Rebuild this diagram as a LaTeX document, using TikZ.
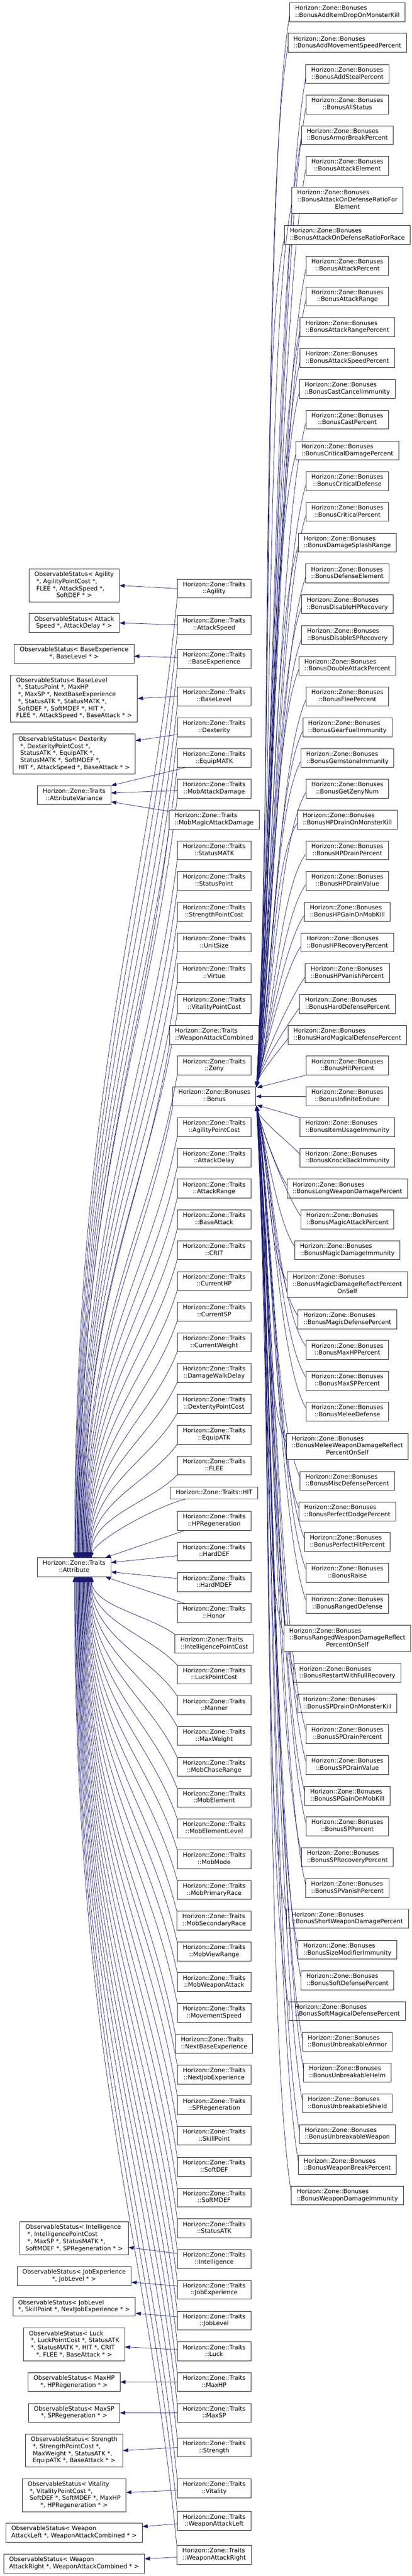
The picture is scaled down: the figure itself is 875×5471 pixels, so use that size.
\documentclass[tikz,border=0pt]{standalone}
\usepackage{fontspec}
\setmainfont{DejaVu Sans}
\usetikzlibrary{%
  calc,
  arrows.meta,
}
\definecolor{midnightblue}{HTML}{191970}

% label: every line flush left, the last one centred
\newcommand{\dlabel}[2]{\begin{tabular}{@{}l@{}}#1\\\multicolumn{1}{@{}c@{}}{#2}\end{tabular}}

% curved edge from a Traits class to Attribute
\newcommand{\attredge}[2]{%
  \pgfmathsetmacro\sgn{2*(#2<3328.5)-1}%
  \pgfmathsetmacro\dd{abs(#2-3328.5)-40}%
  \pgfmathsetmacro\xoff{40*(1-\dd/2100)}%
  \pgfmathsetmacro\cx{-0.3*(220-\xoff)}%
  \pgfmathsetmacro\cy{0.33*\dd*\sgn}%
  \pgfmathsetmacro\cz{-0.5*\dd*\sgn}%
  \pgfmathsetmacro\sy{20*\sgn}%
  \pgfmathsetmacro\ey{-20*\sgn}%
  \draw[inherit] ($(#1.west)+(0,\sy)$) .. controls +(\cx,\cy) and +(0,\cz) .. ($(Attribute.center)+(\xoff,\ey)$);}

% curved edge from a Bonuses class to Bonus
\newcommand{\bonusedge}[2]{%
  \pgfmathsetmacro\sgn{2*(#2<2328.5)-1}%
  \pgfmathsetmacro\dd{abs(#2-2328.5)-28}%
  \pgfmathsetmacro\ff{min(1,\dd/500)}%
  \pgfmathsetmacro\ax{-55*\ff}%
  \pgfmathsetmacro\ay{0.15*\dd*\sgn}%
  \pgfmathsetmacro\bx{35*\ff}%
  \pgfmathsetmacro\by{-0.3*\dd*\sgn}%
  \pgfmathsetmacro\sy{8*\sgn}%
  \pgfmathsetmacro\ey{-20*\sgn}%
  \draw[inherit] ($(#1.west)+(0,\sy)$) .. controls +(\ax,\ay) and +(\bx,\by) .. ($(Bonus.east)+(1,\ey)$);}

\begin{document}
\begin{tikzpicture}[%
           x=1pt, y=-1pt,
           classbox/.style={
             % The shape:
             rectangle,
             % The border:
             draw=black!85,
             line width=1pt,
             % The filling:
             fill=white,
             % The text:
             font=\fontsize{12.8}{15}\selectfont,
             inner xsep=11.5pt,
             inner ysep=5pt,
           },
           inherit/.style={
             -{Triangle[length=11pt,width=8pt]},
             line width=0.8pt,
             color=midnightblue,
           }]

  \useasboundingbox[fill=white] (0,0) rectangle (875,5471);

  % base classes
  \node[classbox] (obsAgility) at (157.5,1243.5) {\dlabel{ObservableStatus< Agility\\\ *, AgilityPointCost *,\\\ FLEE *, AttackSpeed *,}{SoftDEF * >}};
  \node[classbox] (obsAttackSpeed) at (157.5,1323) {\dlabel{ObservableStatus< Attack}{Speed *, AttackDelay * >}};
  \node[classbox] (obsBaseExperience) at (157.5,1388.5) {\dlabel{ObservableStatus< BaseExperience}{*, BaseLevel * >}};
  \node[classbox] (obsBaseLevel) at (157.5,1483.5) {\dlabel{ObservableStatus< BaseLevel\\\ *, StatusPoint *, MaxHP\\\ *, MaxSP *, NextBaseExperience\\\ *, StatusATK *, StatusMATK *,\\\ SoftDEF *, SoftMDEF *, HIT *,}{FLEE *, AttackSpeed *, BaseAttack * >}};
  \node[classbox] (obsDexterity) at (157.5,1601) {\dlabel{ObservableStatus< Dexterity\\\ *, DexterityPointCost *,\\\ StatusATK *, EquipATK *,\\\ StatusMATK *, SoftMDEF *,}{HIT *, AttackSpeed *, BaseAttack * >}};
  \node[classbox] (AttributeVariance) at (157.5,1689) {\dlabel{Horizon::Zone::Traits}{::AttributeVariance}};
  \node[classbox] (Attribute) at (157.5,3328.5) {\dlabel{Horizon::Zone::Traits}{::Attribute}};
  \node[classbox] (obsIntelligence) at (157.5,4754) {\dlabel{ObservableStatus< Intelligence\\\ *, IntelligencePointCost\\\ *, MaxSP *, StatusMATK *,}{SoftMDEF *, SPRegeneration * >}};
  \node[classbox] (obsJobExperience) at (157.5,4834) {\dlabel{ObservableStatus< JobExperience}{*, JobLevel * >}};
  \node[classbox] (obsJobLevel) at (157.5,4899) {\dlabel{ObservableStatus< JobLevel}{*, SkillPoint *, NextJobExperience * >}};
  \node[classbox] (obsLuck) at (157.5,4979.5) {\dlabel{ObservableStatus< Luck\\\ *, LuckPointCost *, StatusATK\\\ *, StatusMATK *, HIT *, CRIT}{*, FLEE *, BaseAttack * >}};
  \node[classbox] (obsMaxHP) at (157.5,5059) {\dlabel{ObservableStatus< MaxHP}{*, HPRegeneration * >}};
  \node[classbox] (obsMaxSP) at (157.5,5124.5) {\dlabel{ObservableStatus< MaxSP}{*, SPRegeneration * >}};
  \node[classbox] (obsStrength) at (157.5,5204.5) {\dlabel{ObservableStatus< Strength\\\ *, StrengthPointCost *,\\\ MaxWeight *, StatusATK *,}{EquipATK *, BaseAttack * >}};
  \node[classbox] (obsVitality) at (157.5,5299.5) {\dlabel{ObservableStatus< Vitality\\\ *, VitalityPointCost *,\\\ SoftDEF *, SoftMDEF *, MaxHP}{*, HPRegeneration * >}};
  \node[classbox] (obsWeaponAttackLeft) at (157.5,5379) {\dlabel{ObservableStatus< Weapon}{AttackLeft *, WeaponAttackCombined * >}};
  \node[classbox] (obsWeaponAttackRight) at (157.5,5444.5) {\dlabel{ObservableStatus< Weapon}{AttackRight *, WeaponAttackCombined * >}};

  % Bonus
  \node[classbox] (Bonus) at (455.5,2328.5) {\dlabel{Horizon::Zone::Bonuses}{::Bonus}};
  \attredge{Bonus}{2328.5}

  % traits
  \foreach \cls/\y in {Agility/1250, AttackSpeed/1327, BaseExperience/1399.5, BaseLevel/1479,
      Dexterity/1545, EquipMATK/1610, MobAttackDamage/1675, MobMagicAttackDamage/1740.5,
      StatusMATK/1806, StatusPoint/1871, StrengthPointCost/1936.5, UnitSize/2002, Virtue/2067,
      VitalityPointCost/2132.5, WeaponAttackCombined/2198, Zeny/2263, AgilityPointCost/2394,
      AttackDelay/2459, AttackRange/2524.5, BaseAttack/2590, CRIT/2655, CurrentHP/2720.5,
      CurrentSP/2785.5, CurrentWeight/2851, DamageWalkDelay/2916, DexterityPointCost/2981.5,
      EquipATK/3047, FLEE/3112.5, IntelligencePointCost/3491, LuckPointCost/3556.5, Manner/3622,
      MaxWeight/3687, MobChaseRange/3752.5, MobElement/3818, MobElementLevel/3883, MobMode/3949,
      MobPrimaryRace/4014, MobSecondaryRace/4079, MobViewRange/4144.5, MobWeaponAttack/4209.5,
      MovementSpeed/4275, NextBaseExperience/4340.5, NextJobExperience/4406, SPRegeneration/4471,
      SkillPoint/4536, SoftDEF/4602, SoftMDEF/4667, StatusATK/4732.5, Intelligence/4798,
      JobExperience/4863, JobLevel/4928.5, Luck/4994, MaxHP/5059, MaxSP/5124.5, Strength/5198,
      Vitality/5285, WeaponAttackLeft/5354, WeaponAttackRight/5426}
  {
    \node[classbox] (\cls) at (455,\y) {\dlabel{Horizon::Zone::Traits}{::\cls}};
    \attredge{\cls}{\y}
  }
  \foreach \cls/\y in {HPRegeneration/3230, HardDEF/3295, HardMDEF/3360.5, Honor/3426}
    \node[classbox] (\cls) at (455,\y) {\dlabel{Horizon::Zone::Traits}{::\cls}};
  \node[classbox] (HIT) at (455,3171) {\begin{tabular}{@{}c@{}}Horizon::Zone::Traits::HIT\end{tabular}};

  \draw[inherit] ($(HIT.south west)+(32,0)$) .. controls +(-60,15) and +(15,-40) .. ($(Attribute.north)+(34,0)$);
  \draw[inherit] ($(HPRegeneration.south west)+(16,0)$) -- ($(Attribute.north east)+(-12,0)$);
  \draw[inherit] ($(HardDEF.west)+(0,9)$) -- ($(Attribute.east)+(0,-10)$);
  \draw[inherit] ($(HardMDEF.west)+(0,-8)$) -- ($(Attribute.east)+(0,10)$);
  \draw[inherit] ($(Honor.north west)+(16,0)$) -- ($(Attribute.south east)+(-12,0)$);

  % traits to their observable bases
  \draw[inherit] (Agility.west) -- (obsAgility.east);
  \draw[inherit] (AttackSpeed.west) -- (obsAttackSpeed.east);
  \draw[inherit] ($(BaseExperience.west)+(0,-3)$) -- ($(obsBaseExperience.east)+(0,5)$);
  \draw[inherit] (BaseLevel.west) -- (obsBaseLevel.east);
  \draw[inherit] ($(Dexterity.west)+(0,15)$) -- ($(obsDexterity.east)+(0,-28)$);
  \draw[inherit] ($(EquipMATK.south west)+(16,0)$) -- (AttributeVariance.north east);
  \draw[inherit] ($(MobAttackDamage.west)+(0,4)$) -- ($(AttributeVariance.east)+(0,-5)$);
  \draw[inherit] ($(MobMagicAttackDamage.north west)+(0,3)$) -- ($(AttributeVariance.east)+(0,14)$);
  \draw[inherit] ($(Intelligence.west)+(0,-12)$) -- ($(obsIntelligence.east)+(0,19)$);
  \draw[inherit] ($(JobExperience.west)+(0,-8)$) -- ($(obsJobExperience.east)+(0,13)$);
  \draw[inherit] ($(JobLevel.west)+(0,-8)$) -- ($(obsJobLevel.east)+(0,14)$);
  \draw[inherit] ($(Luck.west)+(0,-4)$) -- ($(obsLuck.east)+(0,5)$);
  \draw[inherit] (MaxHP.west) -- (obsMaxHP.east);
  \draw[inherit] (MaxSP.west) -- (obsMaxSP.east);
  \draw[inherit] (Strength.west) -- (obsStrength.east);
  \draw[inherit] ($(Vitality.west)+(0,4)$) -- ($(obsVitality.east)+(0,-6)$);
  \draw[inherit] ($(WeaponAttackLeft.west)+(0,6)$) -- ($(obsWeaponAttackLeft.east)+(0,-13)$);
  \draw[inherit] ($(WeaponAttackRight.west)+(0,5)$) -- ($(obsWeaponAttackRight.east)+(0,-10)$);

  % bonuses
  \foreach \cls/\y in {BonusAddItemDropOnMonsterKill/26, BonusAddMovementSpeedPercent/91,
      BonusAddStealPercent/157, BonusAllStatus/222, BonusArmorBreakPercent/287,
      BonusAttackElement/352, BonusAttackOnDefenseRatioForRace/499, BonusAttackPercent/564.5,
      BonusAttackRange/629.5, BonusAttackRangePercent/695, BonusAttackSpeedPercent/760.5,
      BonusCastCancelImmunity/826, BonusCastPercent/891, BonusCriticalDamagePercent/957,
      BonusCriticalDefense/1022, BonusCriticalPercent/1087, BonusDamageSplashRange/1152.5,
      BonusDefenseElement/1218, BonusDisableHPRecovery/1283, BonusDisableSPRecovery/1348.5,
      BonusDoubleAttackPercent/1414, BonusFleePercent/1479, BonusGearFuelImmunity/1545,
      BonusGemstoneImmunity/1610, BonusGetZenyNum/1675, BonusHPDrainOnMonsterKill/1740.5,
      BonusHPDrainPercent/1806, BonusHPDrainValue/1871, BonusHPGainOnMobKill/1936.5,
      BonusHPRecoveryPercent/2002, BonusHPVanishPercent/2067, BonusHardDefensePercent/2132.5,
      BonusHardMagicalDefensePercent/2198, BonusKnockBackImmunity/2459,
      BonusLongWeaponDamagePercent/2524.5, BonusMagicAttackPercent/2590,
      BonusMagicDamageImmunity/2655, BonusMagicDefensePercent/2802, BonusMaxHPPercent/2867,
      BonusMaxSPPercent/2932.5, BonusMeleeDefense/2998, BonusMiscDefensePercent/3145,
      BonusPerfectDodgePercent/3210, BonusPerfectHitPercent/3275, BonusRaise/3340.5,
      BonusRangedDefense/3406, BonusRestartWithFullRecovery/3553, BonusSPDrainOnMonsterKill/3618,
      BonusSPDrainPercent/3683, BonusSPDrainValue/3748.5, BonusSPGainOnMobKill/3814,
      BonusSPPercent/3879, BonusSPRecoveryPercent/3944.5, BonusSPVanishPercent/4010,
      BonusShortWeaponDamagePercent/4075, BonusSizeModifierImmunity/4141,
      BonusSoftDefensePercent/4206, BonusSoftMagicalDefensePercent/4271,
      BonusUnbreakableArmor/4336.5, BonusUnbreakableHelm/4402, BonusUnbreakableShield/4467,
      BonusUnbreakableWeapon/4532.5, BonusWeaponBreakPercent/4598,
      BonusWeaponDamageImmunity/4663}
  {
    \node[classbox] (\cls) at (738,\y) {\dlabel{Horizon::Zone::Bonuses}{::\cls}};
    \bonusedge{\cls}{\y}
  }
  \foreach \cls/\y/\a/\b in {
      BonusAttackOnDefenseRatioForElement/425.5/BonusAttackOnDefenseRatioFor/Element,
      BonusMagicDamageReflectPercentOnSelf/2728.5/BonusMagicDamageReflectPercent/OnSelf,
      BonusMeleeWeaponDamageReflectPercentOnSelf/3071.5/BonusMeleeWeaponDamageReflect/PercentOnSelf,
      BonusRangedWeaponDamageReflectPercentOnSelf/3479.5/BonusRangedWeaponDamageReflect/PercentOnSelf}
  {
    \node[classbox] (\cls) at (738,\y) {\dlabel{Horizon::Zone::Bonuses\\::\a}{\b}};
    \bonusedge{\cls}{\y}
  }
  \foreach \cls/\y in {BonusHitPercent/2263, BonusInfiniteEndure/2328.5, BonusItemUsageImmunity/2394}
    \node[classbox] (\cls) at (738,\y) {\dlabel{Horizon::Zone::Bonuses}{::\cls}};

  \draw[inherit] (BonusHitPercent.south west) -- ($(Bonus.north east)+(2,2)$);
  \draw[inherit] (BonusInfiniteEndure.west) -- (Bonus.east);
  \draw[inherit] (BonusItemUsageImmunity.north west) -- ($(Bonus.south east)+(2,-2)$);

\end{tikzpicture}
\end{document}
